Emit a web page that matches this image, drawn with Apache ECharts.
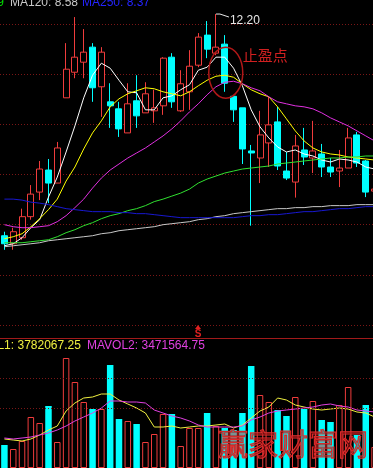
<!DOCTYPE html>
<html><head><meta charset="utf-8">
<script src="https://cdn.jsdelivr.net/npm/echarts@6/dist/echarts.min.js"></script>
<style>html,body{margin:0;padding:0;background:#000;overflow:hidden}#c{width:373px;height:468px;}</style>
</head><body><div id="c"></div>
<script>
// ---- data ----
const days = ['1','2','3','4','5','6','7','8','9','10','11','12','13','14','15','16','17','18','19','20','21','22','23','24','25','26','27','28','29','30','31','32','33','34','35','36','37','38','39','40','41','42','43'];
const opens  = [7.78,7.62,7.74,8.16,8.65,9.09,8.83,10.53,11.04,11.24,11.54,10.75,10.45,10.31,9.83,10.47,10.23,10.27,10.37,11.34,10.27,10.65,11.18,11.78,11.42,11.60,10.56,10.33,9.47,9.33,9.63,10.05,9.07,8.85,9.49,9.33,9.41,9.15,9.07,9.13,9.79,9.27,8.67];
const closes = [7.62,7.86,8.16,8.61,9.11,8.83,9.53,11.10,11.34,11.44,10.73,11.44,10.37,9.91,10.41,10.17,10.61,10.33,11.32,10.45,10.81,11.16,11.74,11.50,11.54,10.82,10.29,9.51,9.43,9.79,9.99,9.17,8.93,9.57,9.35,9.47,9.15,9.05,9.13,9.73,9.23,8.65,8.71];
const highs  = [7.86,7.94,8.32,8.79,9.27,9.31,9.65,11.62,12.14,11.90,11.62,11.54,10.82,10.45,10.82,10.98,10.84,10.69,11.34,11.42,11.08,11.48,11.82,12.06,12.20,11.78,10.56,10.33,9.59,10.27,10.55,10.35,9.45,9.79,9.93,10.07,9.61,9.33,9.49,9.93,9.85,9.29,8.77];
const lows   = [7.50,7.50,7.70,8.10,8.49,8.43,8.83,10.53,10.92,10.92,10.45,10.15,9.93,9.75,9.83,9.93,10.23,10.03,10.19,10.33,10.25,10.29,11.14,11.32,11.38,10.65,10.05,9.21,7.98,8.83,9.15,9.09,8.89,8.54,9.19,9.03,8.95,8.95,8.75,9.13,9.15,8.55,8.63];
const ma5    = [7.58,7.62,7.74,7.94,8.10,8.55,8.95,9.45,9.97,10.53,10.98,11.22,11.12,10.88,10.65,10.63,10.29,10.29,10.53,10.57,10.69,10.79,11.08,11.14,11.34,11.34,11.12,10.77,10.29,9.95,9.73,9.55,9.45,9.49,9.41,9.37,9.29,9.25,9.31,9.29,9.25,9.15,9.11];
const ma10   = [7.72,7.76,7.82,7.96,8.12,8.30,8.51,8.87,9.15,9.51,9.83,10.07,10.35,10.51,10.61,10.67,10.73,10.71,10.65,10.61,10.57,10.65,10.77,10.88,10.96,10.98,10.94,10.81,10.69,10.61,10.55,10.35,10.11,9.87,9.67,9.53,9.45,9.41,9.39,9.35,9.33,9.31,9.29];
const ma20   = [8.00,7.96,7.94,7.94,7.96,7.98,8.06,8.18,8.34,8.51,8.73,8.93,9.09,9.21,9.33,9.43,9.53,9.65,9.77,9.91,10.07,10.25,10.41,10.59,10.75,10.84,10.86,10.81,10.73,10.67,10.55,10.45,10.41,10.37,10.35,10.31,10.23,10.13,10.05,9.97,9.87,9.77,9.67];
const ma60   = [7.64,7.64,7.64,7.66,7.68,7.70,7.76,7.84,7.90,7.98,8.04,8.12,8.18,8.22,8.28,8.32,8.38,8.46,8.51,8.57,8.63,8.71,8.83,8.91,8.97,9.03,9.07,9.11,9.13,9.15,9.17,9.21,9.23,9.25,9.27,9.29,9.31,9.33,9.33,9.35,9.35,9.37,9.37];
const ma120  = [7.56,7.58,7.60,7.62,7.64,7.68,7.70,7.72,7.74,7.76,7.78,7.82,7.84,7.88,7.90,7.92,7.94,7.96,8.00,8.02,8.04,8.06,8.10,8.12,8.16,8.18,8.22,8.24,8.26,8.28,8.30,8.32,8.32,8.34,8.34,8.36,8.36,8.38,8.38,8.38,8.40,8.40,8.40];
const ma250  = [8.51,8.51,8.49,8.45,8.43,8.40,8.36,8.32,8.30,8.28,8.26,8.26,8.26,8.24,8.24,8.22,8.22,8.20,8.18,8.16,8.14,8.14,8.14,8.14,8.14,8.14,8.14,8.16,8.18,8.18,8.20,8.20,8.22,8.24,8.26,8.26,8.28,8.30,8.32,8.32,8.34,8.36,8.36];
// volume in 10k shares
const volumes = [172.5,142.5,202.5,382.5,337.5,465,195,825,645,495,442.5,442.5,772.5,367.5,352.5,330,195,255,405,405,165,300,300,412.5,315,300,285,412.5,765,547.5,495,435,390,532.5,442.5,502.5,360,345,472.5,607.5,247.5,472.5,157.5];
const mavol1  = [217.5,210,202.5,217.5,247.5,285,315,427.5,487.5,525,532.5,555,555,510,480,450,412.5,307.5,307.5,315,300,307.5,315,315,322.5,330,300,322.5,375,427.5,457.5,525,510,472.5,457.5,442.5,435,442.5,450,442.5,420,412.5,382.5];
const mavol2  = [225,217.5,225,232.5,247.5,262.5,285,315,352.5,382.5,412.5,450,502.5,502.5,495,495,487.5,435,412.5,390,375,352.5,322.5,307.5,307.5,307.5,307.5,315,360,382.5,412.5,427.5,435,442.5,450,457.5,472.5,480,465,457.5,435,427.5,420];
const priceTicks = [6,7,8,9,10,11,12];
const volTicks = [450,675];
const topLabels = [{t:'9',c:'#00e000'},{t:'MA120: 8.58',c:'#c8c8c8'},{t:'MA250: 8.37',c:'#2424ff'}];
const volLabels = [{t:'MAVOL1: 3782067.25',c:'#f0f040'},{t:'MAVOL2: 3471564.75',c:'#e040e0'}];
const peakLabel = '12.20';
const noteText = '止盈点';
const noteAt = {index:25, price:11.03};
const watermark = '赢家财富网';

// ---- styles ----
const RED = '#f03c3c', CYAN = '#00ffff', GRIDC = '#7a1616';
const FONT = '"Liberation Sans", Arial, sans-serif';

const chart = echarts.init(document.getElementById('c'), null, {renderer:'canvas'});
const candleData = opens.map((o,i)=>[o, closes[i], lows[i], highs[i]]);
const volData = volumes.map((v,i)=> closes[i] >= opens[i]
  ? {value:v, itemStyle:{color:'#000', borderColor:RED, borderWidth:1}}
  : {value:v, itemStyle:{color:CYAN, borderColor:CYAN, borderWidth:0}});
const ln = (data, color, xi, yi) => ({type:'line', xAxisIndex:xi, yAxisIndex:yi, data, symbol:'none', smooth:false,
  lineStyle:{color, width:1}, silent:true, z:3, animation:false});

chart.setOption({
  backgroundColor:'#000',
  animation:false,
  grid:[{left:0, width:379, top:-1, height:326, outerBoundsMode:'none', containLabel:false},
        {left:0, width:379, top:338, height:130, outerBoundsMode:'none', containLabel:false}],
  xAxis:[
    {type:'category', data:days, gridIndex:0, boundaryGap:true, show:false},
    {type:'category', data:days, gridIndex:1, boundaryGap:true, show:false}
  ],
  yAxis:[
    {type:'value', gridIndex:0, min:priceTicks[0], max:12.5, interval:1,
     axisLine:{show:false}, axisTick:{show:false}, axisLabel:{show:false},
     splitLine:{show:true, lineStyle:{color:GRIDC, width:1, type:[1,2]}}},
    {type:'value', gridIndex:1, min:0, max:975, axisLine:{show:false}, axisTick:{show:false}, axisLabel:{show:false}, splitLine:{show:false}}
  ],
  series:[
    {type:'candlestick', xAxisIndex:0, yAxisIndex:0, data:candleData, barWidth:6.5, silent:true,
     itemStyle:{color:'#000', color0:CYAN, borderColor:RED, borderColor0:CYAN, borderWidth:1}},
    ln(ma5,'#ffffff',0,0), ln(ma10,'#ffff00',0,0), ln(ma20,'#e030e0',0,0),
    ln(ma60,'#30e030',0,0), ln(ma120,'#c8c8c8',0,0), ln(ma250,'#1818d0',0,0),
    {type:'bar', xAxisIndex:1, yAxisIndex:1, data:volData, barWidth:6.5, silent:true,
     markLine:{silent:true, symbol:'none', label:{show:false}, lineStyle:{color:GRIDC, width:1, type:[1,2]},
       data:volTicks.map(v=>({yAxis:v}))}},
    ln(mavol1,'#f0f040',1,1), ln(mavol2,'#e040e0',1,1)
  ]
});

const pk = chart.convertToPixel({gridIndex:0}, [24, highs[24]]);
const ec = chart.convertToPixel({gridIndex:0}, [noteAt.index, noteAt.price]);
const els = [
  {type:'line', shape:{x1:0,y1:338.5,x2:373,y2:338.5}, style:{stroke:'#a01a1a', lineWidth:1}},
  {type:'polygon', shape:{points:[[198,325],[195,329],[201,329]]}, style:{fill:'#e02020'}},
  {type:'text', x:198, y:334, style:{text:'S', fill:'#e02020', font:'bold 10px '+FONT, align:'center', verticalAlign:'middle'}},
  {type:'text', x:4, y:3, style:{text:topLabels[0].t, fill:topLabels[0].c, font:'12px '+FONT, align:'right', verticalAlign:'middle'}},
  {type:'text', x:10, y:3, style:{text:topLabels[1].t, fill:topLabels[1].c, font:'12px '+FONT, verticalAlign:'middle'}},
  {type:'text', x:82, y:3, style:{text:topLabels[2].t, fill:topLabels[2].c, font:'12px '+FONT, verticalAlign:'middle'}},
  {type:'text', x:-37, y:346, style:{text:volLabels[0].t, fill:volLabels[0].c, font:'12px '+FONT, verticalAlign:'middle'}},
  {type:'text', x:87, y:346, style:{text:volLabels[1].t, fill:volLabels[1].c, font:'12px '+FONT, verticalAlign:'middle'}},
  {type:'polyline', shape:{points:[[pk[0],pk[1]],[pk[0]+4,pk[1]],[pk[0]+13,pk[1]+3]]}, style:{stroke:'#e8e8e8', lineWidth:1, fill:null}},
  {type:'text', x:pk[0]+14, y:pk[1]+7, style:{text:peakLabel, fill:'#e8e8e8', font:'12px '+FONT, verticalAlign:'middle'}},
  {type:'ellipse', shape:{cx:ec[0]+1, cy:ec[1], rx:17, ry:25.5}, style:{stroke:'#b01818', lineWidth:1.5, fill:null}},
  {type:'text', x:ec[0]+18, y:ec[1]-17.5, style:{text:noteText, fill:'#d02020', font:'15px "Noto Sans CJK SC"', verticalAlign:'middle'}},
  {type:'text', x:293, y:444, style:{text:watermark, fill:'rgba(170,20,20,0.45)', stroke:'#e83030', lineWidth:1.2, font:'30px "Noto Sans CJK SC"', align:'center', verticalAlign:'middle'}}
].map(e => Object.assign({z:100}, e));
chart.setOption({graphic:{elements:els}});
</script></body></html>
